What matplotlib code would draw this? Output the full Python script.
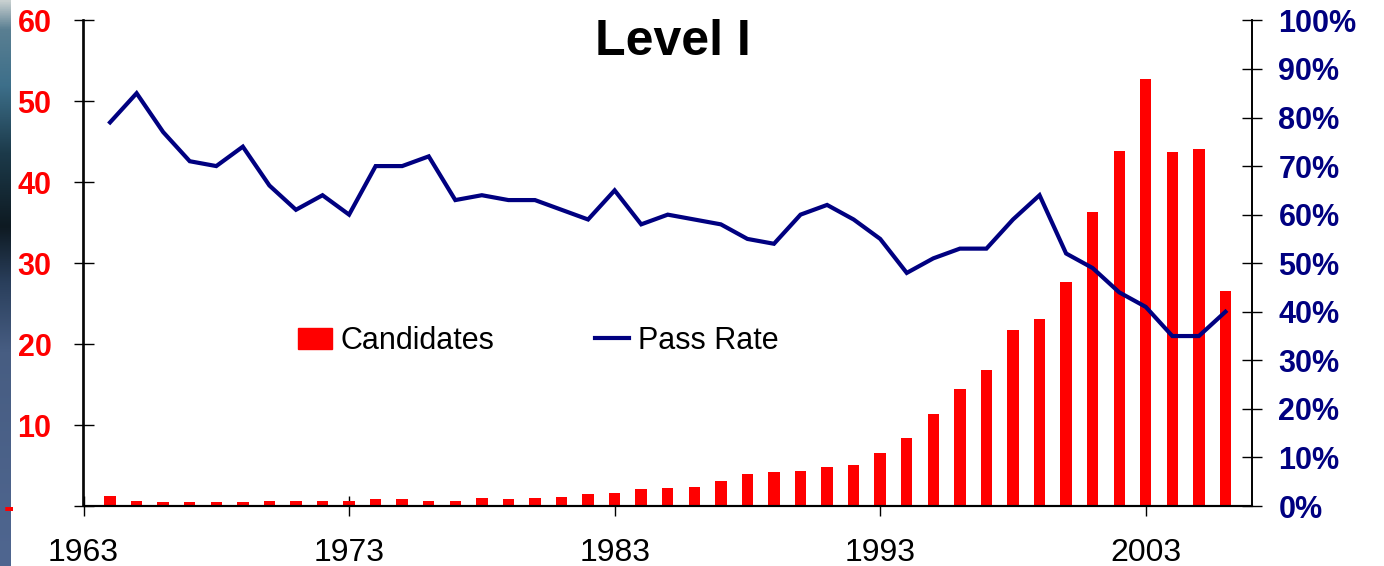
import numpy as np
import matplotlib.pyplot as plt
from matplotlib.patches import Patch
from matplotlib.lines import Line2D
from matplotlib.colors import LinearSegmentedColormap
from matplotlib.transforms import blended_transform_factory

plt.rcParams['font.family'] = ['Liberation Sans', 'DejaVu Sans']

# data
years = [1964, 1965, 1966, 1967, 1968, 1969, 1970, 1971, 1972, 1973,
         1974, 1975, 1976, 1977, 1978, 1979, 1980, 1981, 1982, 1983,
         1984, 1985, 1986, 1987, 1988, 1989, 1990, 1991, 1992, 1993,
         1994, 1995, 1996, 1997, 1998, 1999, 2000, 2001, 2002, 2003,
         2004, 2005, 2006]
candidates = [1.23, 0.62, 0.49, 0.49, 0.49, 0.49, 0.62, 0.62, 0.62, 0.62,
              0.86, 0.86, 0.62, 0.62, 0.99, 0.86, 0.99, 1.11, 1.48, 1.6,
              2.1, 2.2, 2.35, 3.1, 3.95, 4.2, 4.3, 4.8, 5.05, 6.5,
              8.4, 11.4, 14.4, 16.8, 21.7, 23.1, 27.65, 36.3, 43.9, 52.7,
              43.7, 44.1, 26.6]
pass_rate = [79, 85, 77, 71, 70, 74, 66, 61, 64, 60,
             70, 70, 72, 63, 64, 63, 63, 61, 59, 65,
             58, 60, 59, 58, 55, 54, 60, 62, 59, 55,
             48, 51, 53, 53, 59, 64, 52, 49, 44, 41,
             35, 35, 40]

x_ticks = [1963, 1973, 1983, 1993, 2003]
left_ticks = [0, 10, 20, 30, 40, 50, 60]
left_labels = ['', '10', '20', '30', '40', '50', '60']
right_ticks = [i / 10 for i in range(11)]
right_labels = ['0%', '10%', '20%', '30%', '40%', '50%', '60%', '70%', '80%', '90%', '100%']

RED = '#ff0000'
NAVY = '#000080'

W, H = 1384, 566
fig = plt.figure(figsize=(W / 100, H / 100), dpi=100)

# decorative strip on the left edge
strip = fig.add_axes([0, 0, 11 / W, 1])
cmap = LinearSegmentedColormap.from_list('strip', [
    (0.0, '#c8d0d0'), (0.05, '#5a7f92'), (0.15, '#3d6f8a'), (0.27, '#1c3a4a'),
    (0.4, '#0e1a22'), (0.5, '#2a3f5c'), (0.62, '#475d82'), (1.0, '#4f6690')])
strip.imshow(np.linspace(0, 1, 256).reshape(-1, 1), aspect='auto', cmap=cmap)
strip.axis('off')

ax = fig.add_axes([83.5 / W, 1 - 506 / H, (1252 - 83.5) / W, (506 - 20.4) / H])
ax2 = ax.twinx()

ax.bar(years, candidates, width=0.43, color=RED, zorder=2)
ax2.plot(years, [p / 100 for p in pass_rate], color=NAVY, lw=3, solid_joinstyle='miter')

ax.set_xlim(1963, 2007)
ax.set_ylim(0, 60)
ax2.set_ylim(0, 1)

for a in (ax, ax2):
    a.spines['top'].set_visible(False)
    a.spines['bottom'].set_linewidth(1.5)
    a.spines['left'].set_linewidth(1.2)
    a.spines['right'].set_linewidth(1.2)

ax.set_xticks(x_ticks)
ax.set_xticklabels([str(y) for y in x_ticks])
ax.tick_params(axis='x', direction='inout', length=14, width=1, labelsize=23, pad=16)

ax.set_yticks(left_ticks)
ax.set_yticklabels(left_labels, fontweight='bold')
ax.tick_params(axis='y', direction='inout', length=14, width=1, labelsize=22,
               labelcolor=RED, pad=16)
ax.text(-0.068, -0.4, '-', transform=blended_transform_factory(ax.transAxes, ax.transData),
        color=RED, fontsize=22, fontweight='bold', ha='left', va='center', clip_on=False)

ax2.set_yticks(right_ticks)
ax2.set_yticklabels(right_labels, fontweight='bold')
ax2.tick_params(axis='y', direction='inout', length=14, width=1, labelsize=22,
                labelcolor=NAVY, pad=12)

fig.text(0.486, 0.925, 'Level I', ha='center', va='center', fontsize=36, fontweight='bold')

handles = [Patch(color=RED), Line2D([], [], color=NAVY, lw=3)]
fig.legend(handles, ['Candidates', 'Pass Rate'], loc='center left',
           bbox_to_anchor=(298 / W, 1 - 341 / H), ncol=2, frameon=False, fontsize=22,
           handlelength=1.1, handleheight=0.7, handletextpad=0.3, columnspacing=3.3,
           borderpad=0, borderaxespad=0)

fig.savefig('out.png', dpi=100)
